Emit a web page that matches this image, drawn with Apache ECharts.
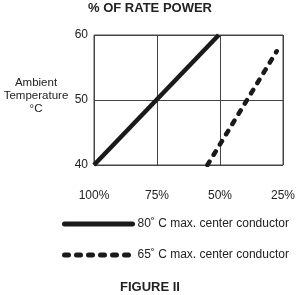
<!DOCTYPE html>
<html>
<head>
<meta charset="utf-8">
<script src="https://cdn.jsdelivr.net/npm/echarts@6/dist/echarts.min.js"></script>
<style>
html, body { margin: 0; padding: 0; background: #fff; }
#chart { width: 300px; height: 295px; }
</style>
</head>
<body>
<div id="chart"></div>
<script>
// percent of rated power (x) vs ambient temperature (y)
var xTicks = [100, 75, 50, 25];
var yTicks = [40, 50, 60];
var line80Name = '80˚ C max. center conductor';
var line80 = [[100, 40], [50.5, 60]];
var line65Name = '65˚ C max. center conductor';
var line65 = [[55, 40], [27.5, 57.5]];

var font = '"Liberation Sans", Arial, sans-serif';
var ink = '#1a1a1a';

function lineSeries(name, data, dash) {
	return {
		name: name,
		type: 'line',
		symbol: 'none',
		data: data,
		silent: true,
		itemStyle: { color: ink },
		lineStyle: {
			color: ink,
			width: 4.5,
			type: dash ? [4, 8] : 'solid',
			cap: dash ? 'round' : 'butt'
		}
	};
}

var option = {
	animation: false,
	backgroundColor: '#fff',
	title: [
		{
			text: '% OF RATE POWER',
			left: 150, top: 2, padding: 0, textAlign: 'center',
			textStyle: { fontFamily: font, fontSize: 13, fontWeight: 'bold', color: '#222' }
		},
		{
			text: 'Ambient\nTemperature\n°C',
			left: 36, top: 76, padding: 0, textAlign: 'center',
			textStyle: { fontFamily: font, fontSize: 11.5, fontWeight: 'normal', color: '#222', lineHeight: 13, align: 'center' }
		},
		{
			text: 'FIGURE II',
			left: 150, top: 281, padding: 0, textAlign: 'center',
			textStyle: { fontFamily: font, fontSize: 13, fontWeight: 'bold', color: '#222' }
		}
	],
	legend: {
		orient: 'vertical',
		left: 62, top: 218, padding: 0,
		itemWidth: 68, itemHeight: 14, itemGap: 19,
		selectedMode: false,
		data: [line80Name, line65Name],
		itemStyle: { opacity: 0 },
		lineStyle: { width: 5, cap: 'round' },
		textStyle: { fontFamily: font, fontSize: 12, color: '#222' }
	},
	grid: {
		left: 94, right: 17, top: 35, bottom: 130,
		show: true, borderColor: '#444', borderWidth: 1
	},
	xAxis: {
		type: 'value',
		inverse: true,
		min: 25, max: 100, interval: 25,
		axisLine: { show: false },
		axisTick: { show: false },
		splitLine: { show: true, lineStyle: { color: '#444', width: 1 } },
		axisLabel: {
			margin: 25,
			fontFamily: font, fontSize: 12, color: '#222',
			formatter: function (v) { return xTicks.indexOf(v) >= 0 ? v + '%' : ''; }
		}
	},
	yAxis: {
		type: 'value',
		min: 40, max: 60, interval: 10,
		axisLine: { show: false },
		axisTick: { show: false },
		splitLine: { show: true, lineStyle: { color: '#444', width: 1 } },
		axisLabel: {
			margin: 6,
			fontFamily: font, fontSize: 12, color: '#222',
			formatter: function (v) { return yTicks.indexOf(v) >= 0 ? String(v) : ''; }
		}
	},
	series: [
		lineSeries(line80Name, line80, false),
		lineSeries(line65Name, line65, true)
	]
};

var myChart = echarts.init(document.getElementById('chart'), null, { renderer: 'canvas' });
myChart.setOption(option, true);
</script>
</body>
</html>
